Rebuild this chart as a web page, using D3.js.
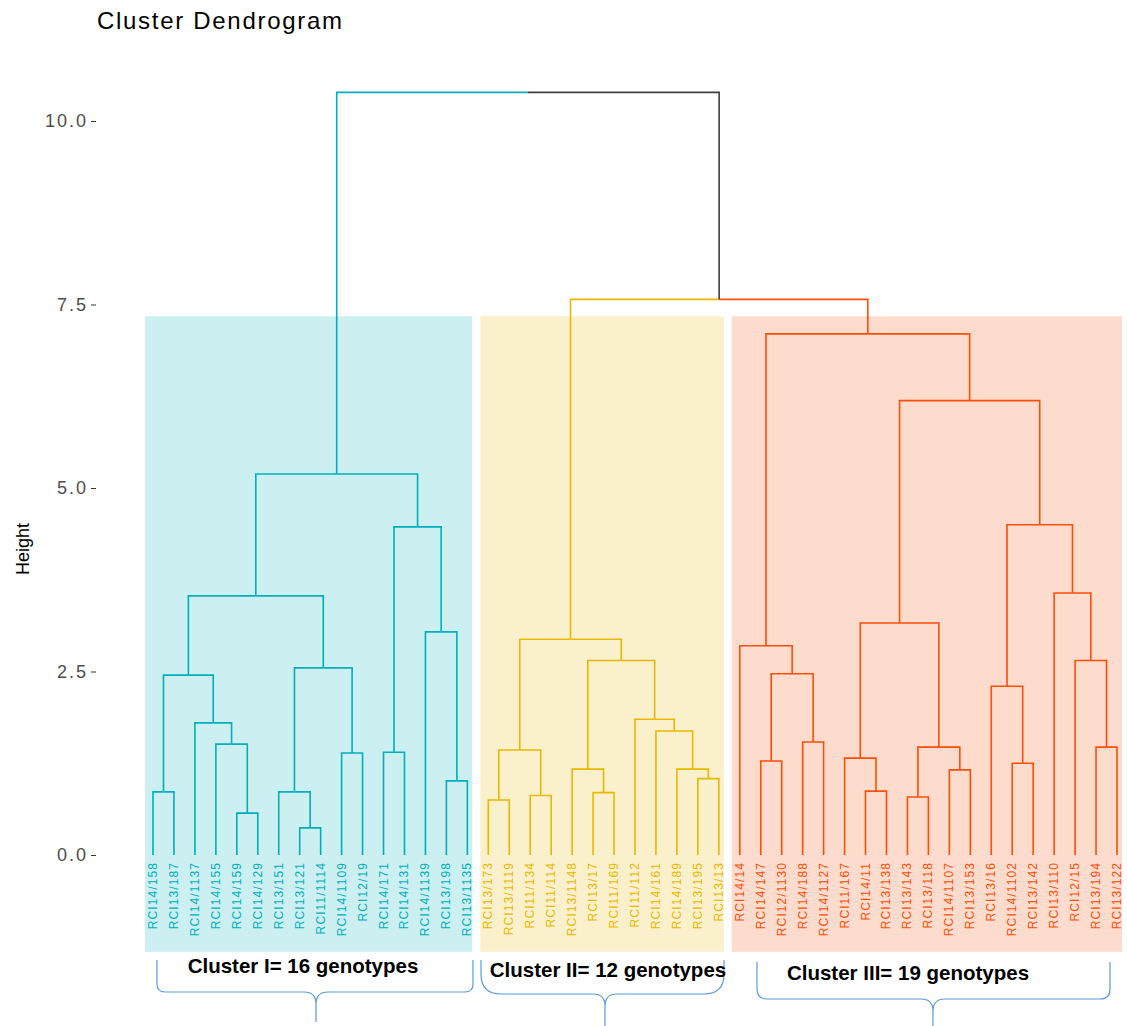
<!DOCTYPE html>
<html>
<head>
<meta charset="utf-8">
<script src="https://cdn.jsdelivr.net/npm/d3@7"></script>
<style>
  body { margin: 0; background: #fff; }
  svg { display: block; font-family: "Liberation Sans", Arial, sans-serif; }
</style>
</head>
<body>
<svg id="chart" width="1127" height="1026"></svg>
<script>
// leaf labels, left to right as drawn
var labels = [
  "RCI14/158", "RCI13/187", "RCI14/1137", "RCI14/155", "RCI14/159", "RCI14/129",
  "RCI13/151", "RCI13/121", "RCI11/1114", "RCI14/1109", "RCI12/19", "RCI14/171",
  "RCI14/131", "RCI14/1139", "RCI13/198", "RCI13/1135",
  "RCI13/173", "RCI13/1119", "RCI11/134", "RCI11/114", "RCI13/1148", "RCI13/17",
  "RCI11/169", "RCI11/112", "RCI14/161", "RCI14/189", "RCI13/195", "RCI13/13",
  "RCI14/14", "RCI14/147", "RCI12/1130", "RCI14/188", "RCI14/1127", "RCI11/167",
  "RCI14/11", "RCI13/138", "RCI13/143", "RCI13/118", "RCI14/1107", "RCI13/153",
  "RCI13/16", "RCI14/1102", "RCI13/142", "RCI13/110", "RCI12/15", "RCI13/194",
  "RCI13/122"
];

// hclust style merges: negative = leaf position (1-based), positive = earlier merge
var mergeA = [-1, -5, -4, -3, 1, -8, -7, -10, 7, 5, -12, -15, -14, 11, 10,
  -17, -19, 16, -22, -21, -27, -26, -25, -24, 20, 18,
  -30, -32, 27, -29, -35, -34, -37, -39, 33, 32, -42, -41, -46, -45, -44, 38, 36, 30,
  26, 15];
var mergeB = [-2, -6, 2, 3, 4, -9, 6, -11, 8, 9, -13, -16, 12, 13, 14,
  -18, -20, 17, -23, 19, -28, 21, 22, 23, 24, 25,
  -31, -33, 28, 29, -36, 31, -38, -40, 34, 35, -43, 37, -47, 39, 40, 41, 42, 43,
  44, 45];
var mergeHeight = [0.86, 0.57, 1.51, 1.80, 2.45, 0.37, 0.86, 1.39, 2.55, 3.53, 1.40, 1.01, 3.04, 4.47, 5.19,
  0.75, 0.81, 1.43, 0.85, 1.17, 1.04, 1.17, 1.69, 1.85, 2.65, 2.94,
  1.28, 1.54, 2.47, 2.85, 0.87, 1.32, 0.79, 1.16, 1.47, 3.16, 1.25, 2.30, 1.47, 2.65, 3.57, 4.50, 6.19, 7.10,
  7.57, 10.39];

var clusterSizes = [16, 12, 19];
var clusterNames = ["Cluster I= 16 genotypes", "Cluster II= 12 genotypes", "Cluster III= 19 genotypes"];
var clusterColors = ["#00AFBB", "#E7B800", "#FC4E07"];
var yTicks = [0, 2.5, 5, 7.5, 10];

var svg = d3.select("#chart");

var x = d3.scalePoint().domain(d3.range(labels.length)).range([153, 1117]);
var y = d3.scaleLinear().domain([0, 10]).range([855, 121]);

// which cluster each leaf belongs to
var leafCluster = [];
clusterSizes.forEach(function (n, c) {
  for (var i = 0; i < n; i++) leafCluster.push(c);
});

// build the node list from the merge table
var merged = [];
function nodeOf(id) {
  if (id < 0) {
    var i = -id - 1;
    return { x: x(i), h: 0, cluster: leafCluster[i] };
  }
  return merged[id - 1];
}
mergeHeight.forEach(function (h, k) {
  var a = nodeOf(mergeA[k]), b = nodeOf(mergeB[k]);
  merged.push({
    x: (a.x + b.x) / 2,
    h: h,
    cluster: a.cluster === b.cluster ? a.cluster : -1,
    children: [a, b]
  });
});

// cluster rectangles
var rectTop = 7.34, rectBottom = -1.32;
var start = 0;
clusterSizes.forEach(function (n, c) {
  var x0 = x(start) - 8, x1 = x(start + n - 1) + 5;
  svg.append("rect")
    .attr("x", x0)
    .attr("y", y(rectTop))
    .attr("width", x1 - x0)
    .attr("height", y(rectBottom) - y(rectTop))
    .attr("fill", clusterColors[c])
    .attr("fill-opacity", 0.2);
  start += n;
});

// branches: each child gets an elbow from the parent's centre
var segs = [];
merged.forEach(function (p) {
  p.children.forEach(function (ch) {
    segs.push({ p: p, c: ch });
  });
});
svg.append("g")
  .selectAll("path")
  .data(segs)
  .join("path")
  .attr("d", function (d) {
    return "M" + d.p.x + "," + y(d.p.h) + "H" + d.c.x + "V" + y(d.c.h);
  })
  .attr("fill", "none")
  .attr("stroke", function (d) { return d.c.cluster < 0 ? "#404040" : clusterColors[d.c.cluster]; })
  .attr("stroke-width", 1.6);

// leaf labels
svg.append("g")
  .selectAll("text")
  .data(labels)
  .join("text")
  .attr("transform", function (d, i) { return "translate(" + (x(i) + 4) + ",862) rotate(-90)"; })
  .attr("text-anchor", "end")
  .attr("font-size", 12)
  .attr("letter-spacing", 1.1)
  .attr("fill", function (d, i) { return clusterColors[leafCluster[i]]; })
  .text(function (d) { return d; });

// y axis
var yAxis = svg.append("g")
  .attr("transform", "translate(96,0)")
  .call(d3.axisLeft(y).tickValues(yTicks).tickFormat(d3.format(".1f")).tickSize(5).tickPadding(3));
yAxis.select(".domain").remove();
yAxis.selectAll("line").attr("stroke", "#333");
yAxis.selectAll("text")
  .attr("fill", "#4D4D4D")
  .attr("font-size", 18)
  .attr("letter-spacing", 2)
  .attr("font-family", "Liberation Sans, Arial, sans-serif");

svg.append("text")
  .attr("transform", "translate(29,549) rotate(-90)")
  .attr("text-anchor", "middle")
  .attr("font-size", 18)
  .attr("fill", "#000")
  .text("Height");

svg.append("text")
  .attr("x", 97)
  .attr("y", 29)
  .attr("font-size", 24)
  .attr("letter-spacing", 1.7)
  .attr("fill", "#000")
  .text("Cluster Dendrogram");

// cluster annotations with curly braces
var braces = [
  { left: 157, right: 473, tip: 316, top: 960, mid: 992, bottom: 1022, r: 8, tx: 303, ty: 973 },
  { left: 481, right: 724, tip: 605, top: 960, mid: 994, bottom: 1026, r: 20, tx: 608, ty: 977 },
  { left: 757, right: 1110, tip: 933, top: 962, mid: 999, bottom: 1026, r: 10, tx: 908, ty: 980 }
];
braces.forEach(function (b, i) {
  var r = b.r, t = 12;
  var p = "M" + b.left + "," + b.top +
    "L" + b.left + "," + (b.mid - r) +
    "Q" + b.left + "," + b.mid + " " + (b.left + r) + "," + b.mid +
    "L" + (b.tip - t) + "," + b.mid +
    "Q" + b.tip + "," + b.mid + " " + b.tip + "," + (b.mid + t) +
    "L" + b.tip + "," + b.bottom +
    "M" + b.tip + "," + (b.mid + t) +
    "Q" + b.tip + "," + b.mid + " " + (b.tip + t) + "," + b.mid +
    "L" + (b.right - r) + "," + b.mid +
    "Q" + b.right + "," + b.mid + " " + b.right + "," + (b.mid - r) +
    "L" + b.right + "," + b.top;
  svg.append("path")
    .attr("d", p)
    .attr("fill", "none")
    .attr("stroke", "#5B9BD5")
    .attr("stroke-width", 1.2);
  svg.append("text")
    .attr("x", b.tx)
    .attr("y", b.ty)
    .attr("text-anchor", "middle")
    .attr("font-size", 20.5)
    .attr("font-weight", "bold")
    .attr("fill", "#000")
    .text(clusterNames[i]);
});
</script>
</body>
</html>
